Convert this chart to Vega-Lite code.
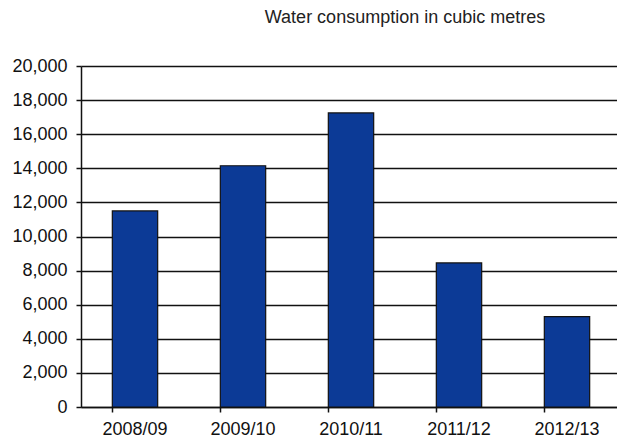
{
  "$schema": "https://vega.github.io/schema/vega-lite/v6.json",
  "autosize": {"type": "none"},
  "padding": {"left": 81, "top": 66, "right": 0, "bottom": 35},
  "width": 540,
  "height": 341,
  "background": "white",
  "title": {
    "text": "Water consumption in cubic metres",
    "anchor": "middle",
    "dx": 54,
    "offset": 30,
    "font": "Liberation Sans",
    "fontSize": 18,
    "fontWeight": "normal",
    "color": "#222222"
  },
  "data": {
    "values": [
      {"year": "2008/09", "cubic_metres": 11500},
      {"year": "2009/10", "cubic_metres": 14150},
      {"year": "2010/11", "cubic_metres": 17250},
      {"year": "2011/12", "cubic_metres": 8450},
      {"year": "2012/13", "cubic_metres": 5300}
    ]
  },
  "mark": {
    "type": "bar",
    "fill": "#0c3a96",
    "stroke": "#111111",
    "strokeWidth": 1.2
  },
  "encoding": {
    "x": {
      "field": "year",
      "type": "nominal",
      "sort": null,
      "scale": {"paddingInner": 0.58, "paddingOuter": 0.29},
      "axis": {
        "title": null,
        "labelAngle": 0,
        "bandPosition": 0,
        "labelFont": "Liberation Sans",
        "labelFontSize": 18,
        "labelColor": "#111111",
        "labelPadding": 8,
        "tickColor": "#111111",
        "tickSize": 5,
        "tickWidth": 1.5,
        "domainColor": "#111111",
        "domainWidth": 1.5,
        "grid": false
      }
    },
    "y": {
      "field": "cubic_metres",
      "type": "quantitative",
      "scale": {"domain": [0, 20000], "nice": false},
      "axis": {
        "title": null,
        "values": [0, 2000, 4000, 6000, 8000, 10000, 12000, 14000, 16000, 18000, 20000],
        "format": ",d",
        "labelFont": "Liberation Sans",
        "labelFontSize": 18,
        "labelColor": "#111111",
        "labelPadding": 9,
        "tickColor": "#111111",
        "tickSize": 5,
        "tickWidth": 1.5,
        "domainColor": "#111111",
        "domainWidth": 1.5,
        "grid": true,
        "gridColor": "#111111",
        "gridWidth": 1.5,
        "gridOpacity": 1
      }
    }
  },
  "config": {
    "view": {"stroke": null}
  }
}
